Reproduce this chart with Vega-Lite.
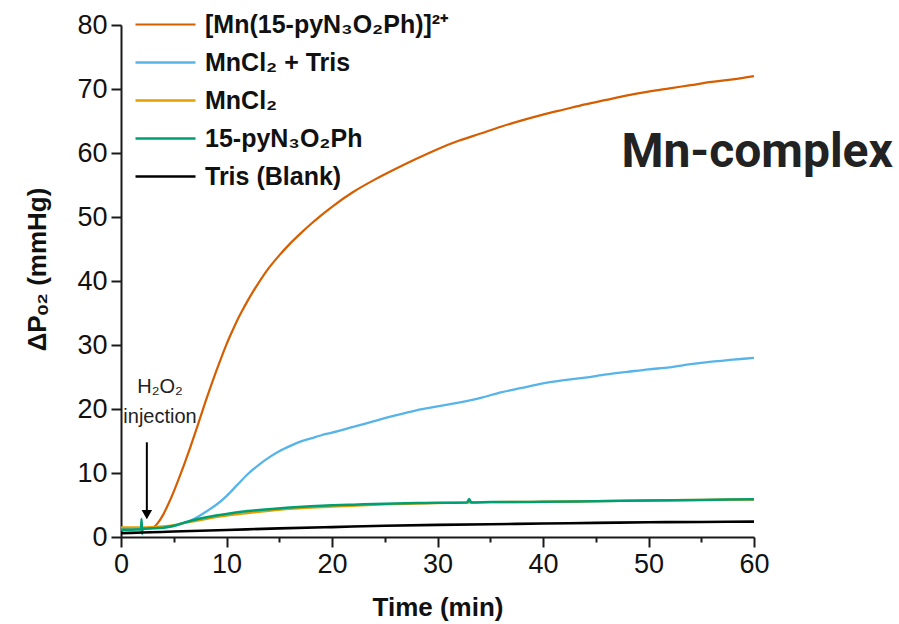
{
  "$schema": "https://vega.github.io/schema/vega-lite/v6.json",
  "width": 633,
  "height": 512,
  "autosize": {"type": "none"},
  "padding": {"left": 121, "top": 25, "right": 145, "bottom": 87},
  "background": "white",
  "config": {"view": {"stroke": null}, "font": "Liberation Sans"},
  "datasets": {
    "curves": [
      {"t":0,"v":1.3,"s":"[Mn(15-pyN₃O₂Ph)]²⁺"},{"t":1,"v":1.3,"s":"[Mn(15-pyN₃O₂Ph)]²⁺"},{"t":2,"v":1.35,"s":"[Mn(15-pyN₃O₂Ph)]²⁺"},{"t":2.5,"v":1.4,"s":"[Mn(15-pyN₃O₂Ph)]²⁺"},{"t":3,"v":1.5,"s":"[Mn(15-pyN₃O₂Ph)]²⁺"},{"t":3.5,"v":2.2,"s":"[Mn(15-pyN₃O₂Ph)]²⁺"},{"t":4,"v":3.5,"s":"[Mn(15-pyN₃O₂Ph)]²⁺"},{"t":4.5,"v":5.2,"s":"[Mn(15-pyN₃O₂Ph)]²⁺"},{"t":5,"v":7.1,"s":"[Mn(15-pyN₃O₂Ph)]²⁺"},{"t":5.5,"v":9.2,"s":"[Mn(15-pyN₃O₂Ph)]²⁺"},{"t":6,"v":11.4,"s":"[Mn(15-pyN₃O₂Ph)]²⁺"},{"t":6.5,"v":13.7,"s":"[Mn(15-pyN₃O₂Ph)]²⁺"},{"t":7,"v":16.1,"s":"[Mn(15-pyN₃O₂Ph)]²⁺"},{"t":7.5,"v":18.6,"s":"[Mn(15-pyN₃O₂Ph)]²⁺"},{"t":8,"v":21.1,"s":"[Mn(15-pyN₃O₂Ph)]²⁺"},{"t":8.5,"v":23.5,"s":"[Mn(15-pyN₃O₂Ph)]²⁺"},{"t":9,"v":25.8,"s":"[Mn(15-pyN₃O₂Ph)]²⁺"},{"t":9.5,"v":28.0,"s":"[Mn(15-pyN₃O₂Ph)]²⁺"},{"t":10,"v":30.1,"s":"[Mn(15-pyN₃O₂Ph)]²⁺"},{"t":10.5,"v":32.0,"s":"[Mn(15-pyN₃O₂Ph)]²⁺"},{"t":11,"v":33.8,"s":"[Mn(15-pyN₃O₂Ph)]²⁺"},{"t":11.5,"v":35.4,"s":"[Mn(15-pyN₃O₂Ph)]²⁺"},{"t":12,"v":36.9,"s":"[Mn(15-pyN₃O₂Ph)]²⁺"},{"t":12.5,"v":38.3,"s":"[Mn(15-pyN₃O₂Ph)]²⁺"},{"t":13,"v":39.6,"s":"[Mn(15-pyN₃O₂Ph)]²⁺"},{"t":14,"v":42.0,"s":"[Mn(15-pyN₃O₂Ph)]²⁺"},{"t":15,"v":44.0,"s":"[Mn(15-pyN₃O₂Ph)]²⁺"},{"t":16,"v":45.8,"s":"[Mn(15-pyN₃O₂Ph)]²⁺"},{"t":17,"v":47.4,"s":"[Mn(15-pyN₃O₂Ph)]²⁺"},{"t":18,"v":48.9,"s":"[Mn(15-pyN₃O₂Ph)]²⁺"},{"t":19,"v":50.3,"s":"[Mn(15-pyN₃O₂Ph)]²⁺"},{"t":20,"v":51.6,"s":"[Mn(15-pyN₃O₂Ph)]²⁺"},{"t":22,"v":53.9,"s":"[Mn(15-pyN₃O₂Ph)]²⁺"},{"t":24,"v":55.8,"s":"[Mn(15-pyN₃O₂Ph)]²⁺"},{"t":26,"v":57.5,"s":"[Mn(15-pyN₃O₂Ph)]²⁺"},{"t":28,"v":59.1,"s":"[Mn(15-pyN₃O₂Ph)]²⁺"},{"t":30,"v":60.6,"s":"[Mn(15-pyN₃O₂Ph)]²⁺"},{"t":32,"v":61.9,"s":"[Mn(15-pyN₃O₂Ph)]²⁺"},{"t":34,"v":63.0,"s":"[Mn(15-pyN₃O₂Ph)]²⁺"},{"t":36,"v":64.1,"s":"[Mn(15-pyN₃O₂Ph)]²⁺"},{"t":38,"v":65.1,"s":"[Mn(15-pyN₃O₂Ph)]²⁺"},{"t":40,"v":66.0,"s":"[Mn(15-pyN₃O₂Ph)]²⁺"},{"t":42,"v":66.8,"s":"[Mn(15-pyN₃O₂Ph)]²⁺"},{"t":44,"v":67.6,"s":"[Mn(15-pyN₃O₂Ph)]²⁺"},{"t":46,"v":68.3,"s":"[Mn(15-pyN₃O₂Ph)]²⁺"},{"t":48,"v":69.0,"s":"[Mn(15-pyN₃O₂Ph)]²⁺"},{"t":50,"v":69.6,"s":"[Mn(15-pyN₃O₂Ph)]²⁺"},{"t":52,"v":70.1,"s":"[Mn(15-pyN₃O₂Ph)]²⁺"},{"t":54,"v":70.6,"s":"[Mn(15-pyN₃O₂Ph)]²⁺"},{"t":56,"v":71.1,"s":"[Mn(15-pyN₃O₂Ph)]²⁺"},{"t":58,"v":71.5,"s":"[Mn(15-pyN₃O₂Ph)]²⁺"},{"t":60,"v":72.0,"s":"[Mn(15-pyN₃O₂Ph)]²⁺"},

      {"t":0,"v":1.2,"s":"MnCl₂ + Tris"},{"t":2,"v":1.3,"s":"MnCl₂ + Tris"},{"t":4,"v":1.5,"s":"MnCl₂ + Tris"},{"t":5,"v":1.7,"s":"MnCl₂ + Tris"},{"t":6,"v":2.2,"s":"MnCl₂ + Tris"},{"t":7,"v":2.9,"s":"MnCl₂ + Tris"},{"t":8,"v":3.9,"s":"MnCl₂ + Tris"},{"t":9,"v":5.0,"s":"MnCl₂ + Tris"},{"t":10,"v":6.4,"s":"MnCl₂ + Tris"},{"t":11,"v":8.1,"s":"MnCl₂ + Tris"},{"t":12,"v":9.8,"s":"MnCl₂ + Tris"},{"t":13,"v":11.2,"s":"MnCl₂ + Tris"},{"t":14,"v":12.4,"s":"MnCl₂ + Tris"},{"t":15,"v":13.4,"s":"MnCl₂ + Tris"},{"t":16,"v":14.2,"s":"MnCl₂ + Tris"},{"t":17,"v":14.9,"s":"MnCl₂ + Tris"},{"t":18,"v":15.4,"s":"MnCl₂ + Tris"},{"t":19,"v":15.9,"s":"MnCl₂ + Tris"},{"t":20,"v":16.3,"s":"MnCl₂ + Tris"},{"t":22,"v":17.2,"s":"MnCl₂ + Tris"},{"t":24,"v":18.1,"s":"MnCl₂ + Tris"},{"t":26,"v":19.0,"s":"MnCl₂ + Tris"},{"t":28,"v":19.8,"s":"MnCl₂ + Tris"},{"t":30,"v":20.4,"s":"MnCl₂ + Tris"},{"t":32,"v":21.0,"s":"MnCl₂ + Tris"},{"t":34,"v":21.7,"s":"MnCl₂ + Tris"},{"t":36,"v":22.6,"s":"MnCl₂ + Tris"},{"t":38,"v":23.3,"s":"MnCl₂ + Tris"},{"t":40,"v":24.0,"s":"MnCl₂ + Tris"},{"t":42,"v":24.5,"s":"MnCl₂ + Tris"},{"t":44,"v":24.9,"s":"MnCl₂ + Tris"},{"t":46,"v":25.4,"s":"MnCl₂ + Tris"},{"t":48,"v":25.8,"s":"MnCl₂ + Tris"},{"t":50,"v":26.2,"s":"MnCl₂ + Tris"},{"t":52,"v":26.5,"s":"MnCl₂ + Tris"},{"t":54,"v":27.0,"s":"MnCl₂ + Tris"},{"t":56,"v":27.4,"s":"MnCl₂ + Tris"},{"t":58,"v":27.7,"s":"MnCl₂ + Tris"},{"t":60,"v":28.0,"s":"MnCl₂ + Tris"},

      {"t":0,"v":1.5,"s":"MnCl₂"},{"t":1,"v":1.5,"s":"MnCl₂"},{"t":2,"v":1.5,"s":"MnCl₂"},{"t":3,"v":1.55,"s":"MnCl₂"},{"t":4,"v":1.65,"s":"MnCl₂"},{"t":5,"v":1.85,"s":"MnCl₂"},{"t":6,"v":2.2,"s":"MnCl₂"},{"t":7,"v":2.5,"s":"MnCl₂"},{"t":8,"v":2.8,"s":"MnCl₂"},{"t":9,"v":3.1,"s":"MnCl₂"},{"t":10,"v":3.35,"s":"MnCl₂"},{"t":12,"v":3.75,"s":"MnCl₂"},{"t":14,"v":4.1,"s":"MnCl₂"},{"t":16,"v":4.4,"s":"MnCl₂"},{"t":18,"v":4.6,"s":"MnCl₂"},{"t":20,"v":4.75,"s":"MnCl₂"},{"t":25,"v":5.1,"s":"MnCl₂"},{"t":30,"v":5.3,"s":"MnCl₂"},{"t":35,"v":5.45,"s":"MnCl₂"},{"t":40,"v":5.5,"s":"MnCl₂"},{"t":45,"v":5.6,"s":"MnCl₂"},{"t":50,"v":5.7,"s":"MnCl₂"},{"t":55,"v":5.8,"s":"MnCl₂"},{"t":60,"v":5.85,"s":"MnCl₂"},

      {"t":0,"v":1.15,"s":"15-pyN₃O₂Ph"},{"t":1,"v":1.15,"s":"15-pyN₃O₂Ph"},{"t":1.9,"v":1.2,"s":"15-pyN₃O₂Ph"},{"t":1.95,"v":2.8,"s":"15-pyN₃O₂Ph"},{"t":2.0,"v":0.5,"s":"15-pyN₃O₂Ph"},{"t":2.05,"v":1.3,"s":"15-pyN₃O₂Ph"},{"t":3,"v":1.35,"s":"15-pyN₃O₂Ph"},{"t":4,"v":1.45,"s":"15-pyN₃O₂Ph"},{"t":5,"v":1.75,"s":"15-pyN₃O₂Ph"},{"t":6,"v":2.25,"s":"15-pyN₃O₂Ph"},{"t":7,"v":2.7,"s":"15-pyN₃O₂Ph"},{"t":8,"v":3.05,"s":"15-pyN₃O₂Ph"},{"t":9,"v":3.35,"s":"15-pyN₃O₂Ph"},{"t":10,"v":3.6,"s":"15-pyN₃O₂Ph"},{"t":12,"v":4.05,"s":"15-pyN₃O₂Ph"},{"t":14,"v":4.35,"s":"15-pyN₃O₂Ph"},{"t":16,"v":4.6,"s":"15-pyN₃O₂Ph"},{"t":18,"v":4.8,"s":"15-pyN₃O₂Ph"},{"t":20,"v":4.95,"s":"15-pyN₃O₂Ph"},{"t":22,"v":5.05,"s":"15-pyN₃O₂Ph"},{"t":25,"v":5.2,"s":"15-pyN₃O₂Ph"},{"t":28,"v":5.3,"s":"15-pyN₃O₂Ph"},{"t":30,"v":5.35,"s":"15-pyN₃O₂Ph"},{"t":32.8,"v":5.4,"s":"15-pyN₃O₂Ph"},{"t":33,"v":5.95,"s":"15-pyN₃O₂Ph"},{"t":33.2,"v":5.4,"s":"15-pyN₃O₂Ph"},{"t":35,"v":5.45,"s":"15-pyN₃O₂Ph"},{"t":40,"v":5.5,"s":"15-pyN₃O₂Ph"},{"t":45,"v":5.6,"s":"15-pyN₃O₂Ph"},{"t":50,"v":5.7,"s":"15-pyN₃O₂Ph"},{"t":55,"v":5.8,"s":"15-pyN₃O₂Ph"},{"t":60,"v":5.9,"s":"15-pyN₃O₂Ph"},

      {"t":0,"v":0.6,"s":"Tris (Blank)"},{"t":2,"v":0.7,"s":"Tris (Blank)"},{"t":5,"v":0.85,"s":"Tris (Blank)"},{"t":10,"v":1.1,"s":"Tris (Blank)"},{"t":15,"v":1.35,"s":"Tris (Blank)"},{"t":20,"v":1.55,"s":"Tris (Blank)"},{"t":25,"v":1.75,"s":"Tris (Blank)"},{"t":30,"v":1.9,"s":"Tris (Blank)"},{"t":35,"v":2.0,"s":"Tris (Blank)"},{"t":40,"v":2.1,"s":"Tris (Blank)"},{"t":45,"v":2.2,"s":"Tris (Blank)"},{"t":50,"v":2.3,"s":"Tris (Blank)"},{"t":55,"v":2.35,"s":"Tris (Blank)"},{"t":60,"v":2.4,"s":"Tris (Blank)"}
    ],
    "notes": [
      {"t":3.7,"v":23.5,"label":"H₂O₂"},
      {"t":3.7,"v":18.7,"label":"injection"}
    ],
    "arrow": [
      {"t":2.45,"v":14.8,"v2":4.0}
    ],
    "arrowhead": [
      {"t":2.45,"v":3.5}
    ],
    "tag": [
      {"t":60.3,"v":60.0,"label":"Mn-complex"}
    ]
  },
  "layer": [
    {
      "data": {"name": "curves"},
      "mark": {"type": "line", "interpolate": "monotone"},
      "encoding": {
        "x": {
          "field": "t", "type": "quantitative",
          "scale": {"domain": [0, 60], "nice": false, "zero": false},
          "axis": {
            "title": "Time (min)",
            "values": [0,5,10,15,20,25,30,35,40,45,50,55,60],
            "labelExpr": "datum.value % 10 === 0 ? datum.label : ''",
            "labelOverlap": false,
            "labelFlush": false,
            "tickSize": {"condition": {"test": "datum.value % 10 === 0", "value": 10}, "value": 5},
            "grid": false,
            "domainColor": "#1a1a1a", "domainWidth": 2,
            "tickColor": "#1a1a1a", "tickWidth": 2,
            "labelFont": "Liberation Sans", "labelFontSize": 27, "labelColor": "#111", "labelPadding": 4,
            "titleFont": "Liberation Sans", "titleFontSize": 26, "titleFontWeight": "bold", "titleColor": "#111", "titlePadding": 17
          }
        },
        "y": {
          "field": "v", "type": "quantitative",
          "scale": {"domain": [0, 80], "nice": false},
          "axis": {
            "title": "ΔPₒ₂ (mmHg)",
            "values": [0,5,10,15,20,25,30,35,40,45,50,55,60,65,70,75,80],
            "labelExpr": "datum.value % 10 === 0 ? datum.label : ''",
            "labelOverlap": false,
            "labelFlush": false,
            "tickSize": {"condition": {"test": "datum.value % 10 === 0", "value": 10}, "value": 5},
            "grid": false,
            "domainColor": "#1a1a1a", "domainWidth": 2,
            "tickColor": "#1a1a1a", "tickWidth": 2,
            "labelFont": "Liberation Sans", "labelFontSize": 27, "labelColor": "#111", "labelPadding": 4,
            "titleFont": "Liberation Sans", "titleFontSize": 26, "titleFontWeight": "bold", "titleColor": "#111", "titlePadding": 26, "titleY": 244
          }
        },
        "color": {
          "field": "s", "type": "nominal",
          "scale": {
            "domain": ["[Mn(15-pyN₃O₂Ph)]²⁺", "MnCl₂ + Tris", "MnCl₂", "15-pyN₃O₂Ph", "Tris (Blank)"],
            "range": ["#D55E00", "#56B4E9", "#E69F00", "#009E73", "#000000"]
          },
          "legend": {
            "orient": "none", "legendX": 32, "legendY": -13,
            "title": null,
            "symbolType": "M-6,0H6", "symbolSize": 100, "symbolStrokeWidth": 2.5,
            "labelFont": "Liberation Sans", "labelFontSize": 25, "labelFontWeight": "bold", "labelColor": "#111",
            "labelOffset": 27, "rowPadding": 12, "labelLimit": 400
          }
        },
        "strokeWidth": {
          "field": "s", "type": "nominal",
          "scale": {
            "domain": ["[Mn(15-pyN₃O₂Ph)]²⁺", "MnCl₂ + Tris", "MnCl₂", "15-pyN₃O₂Ph", "Tris (Blank)"],
            "range": [2.2, 2.6, 2.4, 3.2, 2.6]
          },
          "legend": null
        }
      }
    },
    {
      "data": {"name": "notes"},
      "mark": {"type": "text", "font": "Liberation Sans", "fontSize": 20, "color": "#222", "align": "center", "baseline": "middle"},
      "encoding": {
        "x": {"field": "t", "type": "quantitative"},
        "y": {"field": "v", "type": "quantitative"},
        "text": {"field": "label"}
      }
    },
    {
      "data": {"name": "arrow"},
      "mark": {"type": "rule", "color": "#000", "strokeWidth": 2},
      "encoding": {
        "x": {"field": "t", "type": "quantitative"},
        "y": {"field": "v", "type": "quantitative"},
        "y2": {"field": "v2"}
      }
    },
    {
      "data": {"name": "arrowhead"},
      "mark": {"type": "point", "shape": "triangle-down", "filled": true, "color": "#000", "size": 110, "opacity": 1},
      "encoding": {
        "x": {"field": "t", "type": "quantitative"},
        "y": {"field": "v", "type": "quantitative"}
      }
    },
    {
      "data": {"name": "tag"},
      "mark": {"type": "text", "font": "Roboto", "fontSize": 48, "fontWeight": "bold", "color": "#222", "align": "center", "baseline": "middle"},
      "encoding": {
        "x": {"field": "t", "type": "quantitative"},
        "y": {"field": "v", "type": "quantitative"},
        "text": {"field": "label"}
      }
    }
  ]
}
